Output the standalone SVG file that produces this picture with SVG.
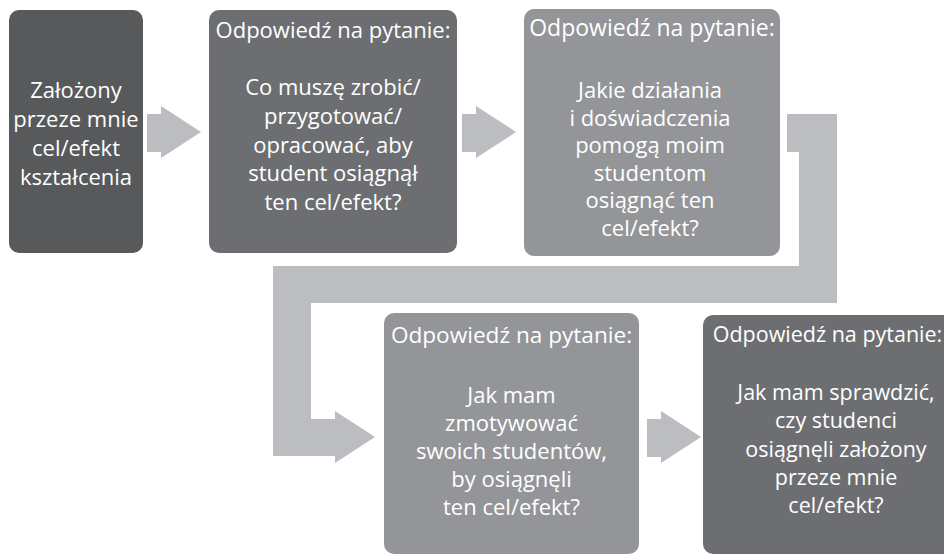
<svg xmlns="http://www.w3.org/2000/svg" width="944" height="555" viewBox="0 0 944 555">
<style>
.t{font-family:"Open Sans","Noto Sans",sans-serif;fill:#ffffff;text-anchor:middle;font-size:22px}
.arr{fill:#bcbdc0}
</style>
<rect width="944" height="555" fill="#ffffff"/>
<g id="connectors">
<path class="arr" d="M147,114 H161 V106 L201,132 L161,158 V152 H147 Z"/>
<path class="arr" d="M462,114 H476 V106 L516,132 L476,158 V152 H462 Z"/>
<path class="arr" d="M647,419 H661 V411 L701,437 L661,463 V457 H647 Z"/>
<path class="arr" d="M787,114 H837 V303 H311 V419 H335 V411 L375,437 L335,463 V456 H273 V266 H799 V152 H787 Z"/>
</g>
<g id="node1">
<rect x="9" y="10" width="134" height="243" rx="10" fill="#58595b"/>
<text class="t" x="76" y="98">Założony</text>
<text class="t" x="76" y="127">przeze mnie</text>
<text class="t" x="76" y="156">cel/efekt</text>
<text class="t" x="76" y="185">kształcenia</text>
</g>
<g id="node2">
<rect x="209" y="10" width="248" height="243" rx="10" fill="#6d6e71"/>
<text class="t" x="333" y="38">Odpowiedź na pytanie:</text>
<text class="t" x="333" y="95">Co muszę zrobić/</text>
<text class="t" x="333" y="124">przygotować/</text>
<text class="t" x="333" y="153">opracować, aby</text>
<text class="t" x="333" y="181">student osiągnął</text>
<text class="t" x="333" y="210">ten cel/efekt?</text>
</g>
<g id="node3">
<rect x="524" y="9" width="256" height="247" rx="10" fill="#939598"/>
<text class="t" x="652" y="36" style="font-size:23px">Odpowiedź na pytanie:</text>
<text class="t" x="650" y="98">Jakie działania</text>
<text class="t" x="650" y="125.5">i doświadczenia</text>
<text class="t" x="650" y="153">pomogą moim</text>
<text class="t" x="650" y="180.5">studentom</text>
<text class="t" x="650" y="208">osiągnąć ten</text>
<text class="t" x="650" y="235.5">cel/efekt?</text>
</g>
<g id="node4">
<rect x="384" y="313" width="255" height="241" rx="10" fill="#939598"/>
<text class="t" x="511.5" y="343" style="font-size:22.6px">Odpowiedź na pytanie:</text>
<text class="t" x="511.5" y="403">Jak mam</text>
<text class="t" x="511.5" y="431">zmotywować</text>
<text class="t" x="511.5" y="459">swoich studentów,</text>
<text class="t" x="511.5" y="487">by osiągnęli</text>
<text class="t" x="511.5" y="515">ten cel/efekt?</text>
</g>
<g id="node5">
<rect x="703" y="315" width="254" height="239" rx="10" fill="#6d6e71"/>
<text class="t" x="827.5" y="342" style="font-size:21.5px">Odpowiedź na pytanie:</text>
<g style="font-size:21.5px">
<text class="t" x="836" y="400" style="font-size:21.5px">Jak mam sprawdzić,</text>
<text class="t" x="836" y="428.3" style="font-size:21.5px">czy studenci</text>
<text class="t" x="836" y="456.6" style="font-size:21.5px">osiągnęli założony</text>
<text class="t" x="836" y="485" style="font-size:21.5px">przeze mnie</text>
<text class="t" x="836" y="513" style="font-size:21.5px">cel/efekt?</text>
</g>
</g>
</svg>
